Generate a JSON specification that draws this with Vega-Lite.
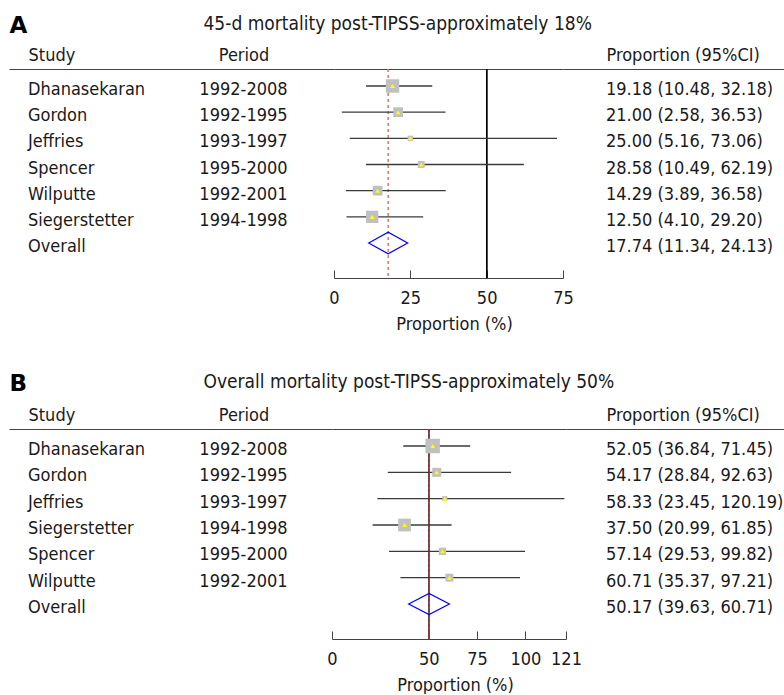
{
  "$schema": "https://vega.github.io/schema/vega-lite/v6.json",
  "padding": {"left": 9, "top": 14, "right": 0, "bottom": 0},
  "background": "white",
  "config": {"view": {"stroke": null}, "font": "DejaVu Sans Condensed, Liberation Sans, sans-serif"},
  "datasets": {
    "a": [
      {"study": "Dhanasekaran", "period": "1992-2008", "est": 19.18, "lo": 10.48, "hi": 32.18, "weight": 30.4},
      {"study": "Gordon", "period": "1992-1995", "est": 21.00, "lo": 2.58, "hi": 36.53, "weight": 15.8},
      {"study": "Jeffries", "period": "1993-1997", "est": 25.00, "lo": 5.16, "hi": 73.06, "weight": 4.8},
      {"study": "Spencer", "period": "1995-2000", "est": 28.58, "lo": 10.49, "hi": 62.19, "weight": 7.9},
      {"study": "Wilputte", "period": "1992-2001", "est": 14.29, "lo": 3.89, "hi": 36.58, "weight": 15.8},
      {"study": "Siegerstetter", "period": "1994-1998", "est": 12.50, "lo": 4.10, "hi": 29.20, "weight": 25.2},
      {"study": "Overall", "period": "", "est": 17.74, "lo": 11.34, "hi": 24.13, "weight": null}
    ],
    "b": [
      {"study": "Dhanasekaran", "period": "1992-2008", "est": 52.05, "lo": 36.84, "hi": 71.45, "weight": 35.2},
      {"study": "Gordon", "period": "1992-1995", "est": 54.17, "lo": 28.84, "hi": 92.63, "weight": 13.7},
      {"study": "Jeffries", "period": "1993-1997", "est": 58.33, "lo": 23.45, "hi": 120.19, "weight": 4.4},
      {"study": "Siegerstetter", "period": "1994-1998", "est": 37.50, "lo": 20.99, "hi": 61.85, "weight": 27.2},
      {"study": "Spencer", "period": "1995-2000", "est": 57.14, "lo": 29.53, "hi": 99.82, "weight": 8.9},
      {"study": "Wilputte", "period": "1992-2001", "est": 60.71, "lo": 35.37, "hi": 97.21, "weight": 10.5},
      {"study": "Overall", "period": "", "est": 50.17, "lo": 39.63, "hi": 60.71, "weight": null}
    ]
  },
  "spacing": 39,
  "vconcat": [
    {
      "spacing": 0,
      "bounds": "flush",
      "hconcat": [
        {
          "width": 325, "height": 209,
          "data": {"name": "a"},
          "layer": [
            {
              "mark": {"type": "text", "align": "left", "baseline": "alphabetic", "dy": 9, "fontSize": 18, "color": "#1a1a1a"},
              "encoding": {
                "x": {"datum": "Study", "type": "nominal",
                  "scale": {"type": "point", "domain": ["Study", "Period"], "padding": 0.2541, "align": 0.1735},
                  "axis": {"orient": "top", "domain": true, "domainColor": "#444", "domainWidth": 1, "ticks": false, "grid": false,
                    "labelPadding": 9, "labelBaseline": "alphabetic", "labelFontSize": 18, "labelColor": "#1a1a1a", "labelAngle": 0,
                    "labelAlign": {"condition": {"test": "datum.value === 'Study'", "value": "left"}, "value": "center"},
                    "title": "A", "titleX": 0, "titleY": -37, "titleAlign": "left", "titleBaseline": "alphabetic", "titleAngle": 0,
                    "titleFont": "DejaVu Sans", "titleFontSize": 23, "titleFontWeight": "bold", "titleColor": "#000", "titleLimit": 1000}},
                "y": {"field": "study", "type": "nominal",
                  "scale": {"type": "point", "domain": ["Dhanasekaran", "Gordon", "Jeffries", "Spencer", "Wilputte", "Siegerstetter", "Overall"], "padding": 0.993, "align": 0.327},
                  "axis": null},
                "text": {"field": "study"}
              }
            },
            {
              "mark": {"type": "text", "align": "center", "baseline": "alphabetic", "dy": 9, "fontSize": 18, "color": "#1a1a1a"},
              "encoding": {
                "x": {"datum": "Period", "type": "nominal"},
                "y": {"field": "study", "type": "nominal"},
                "text": {"field": "period"}
              }
            }
          ]
        },
        {
          "width": 229, "height": 209,
          "data": {"name": "a"},
          "resolve": {"axis": {"x": "independent"}},
          "layer": [
            {
              "mark": {"type": "rule", "color": "#000", "strokeWidth": 1},
              "encoding": {
                "x": {"datum": 50, "type": "quantitative",
                  "scale": {"domain": [0, 75], "nice": false},
                  "axis": {"orient": "bottom", "values": [0, 25, 50, 75], "format": "d", "grid": false,
                    "tickSize": -8, "tickColor": "#444", "domainColor": "#444",
                    "labelFontSize": 18, "labelColor": "#1a1a1a", "labelPadding": 33, "labelBaseline": "alphabetic", "labelFlush": false, "labelOverlap": false,
                    "title": "Proportion (%)", "titleFontSize": 18, "titleFontWeight": "normal", "titleColor": "#1a1a1a",
                    "titleX": 120, "titleY": 51, "titleAlign": "center", "titleBaseline": "alphabetic"}}
              }
            },
            {
              "transform": [{"filter": "datum.study === 'Overall'"}],
              "mark": {"type": "rule", "color": "#e57373", "strokeWidth": 1.5, "strokeDash": [3, 3]},
              "encoding": {"x": {"field": "est", "type": "quantitative", "axis": null}}
            },
            {
              "transform": [{"filter": "datum.study !== 'Overall'"}],
              "mark": {"type": "rule", "color": "#3a3a3a", "strokeWidth": 1.3},
              "encoding": {
                "x": {"field": "lo", "type": "quantitative", "axis": null},
                "x2": {"field": "hi"},
                "y": {"field": "study", "type": "nominal",
                  "scale": {"type": "point", "domain": ["Dhanasekaran", "Gordon", "Jeffries", "Spencer", "Wilputte", "Siegerstetter", "Overall"], "padding": 0.993, "align": 0.327},
                  "axis": null}
              }
            },
            {
              "transform": [{"filter": "datum.study !== 'Overall'"}],
              "mark": {"type": "point", "shape": "square", "filled": true, "color": "#c0c0c0", "opacity": 1},
              "encoding": {
                "x": {"field": "est", "type": "quantitative", "axis": null},
                "y": {"field": "study", "type": "nominal"},
                "size": {"field": "weight", "type": "quantitative", "scale": {"domain": [0, 30.4], "range": [0, 210]}, "legend": null}
              }
            },
            {
              "transform": [{"filter": "datum.study !== 'Overall'"}],
              "mark": {"type": "point", "shape": "triangle-up", "filled": true, "color": "#ffff00", "size": 22, "opacity": 1},
              "encoding": {
                "x": {"field": "est", "type": "quantitative", "axis": null},
                "y": {"field": "study", "type": "nominal"}
              }
            },
            {
              "transform": [{"filter": "datum.study === 'Overall'"}],
              "mark": {"type": "point", "shape": "M-1,0L0,-0.556L1,0L0,0.556Z", "filled": false, "color": "#0000ff", "strokeWidth": 1.2, "size": 1521, "opacity": 1},
              "encoding": {
                "x": {"field": "est", "type": "quantitative",
                  "axis": {"orient": "top", "labels": false, "ticks": false, "domain": true, "domainColor": "#444", "grid": false,
                    "title": "45-d mortality post-TIPSS-approximately 18%", "titleX": -131, "titleY": -40, "titleAlign": "left", "titleBaseline": "alphabetic",
                    "titleFontSize": 19, "titleFontWeight": "normal", "titleColor": "#1a1a1a", "titleLimit": 1000}},
                "y": {"field": "study", "type": "nominal"}
              }
            }
          ]
        },
        {
          "width": 221, "height": 209,
          "data": {"name": "a"},
          "transform": [{"calculate": "format(datum.est, '.2f') + ' (' + format(datum.lo, '.2f') + ', ' + format(datum.hi, '.2f') + ')'", "as": "label"}],
          "mark": {"type": "text", "align": "left", "baseline": "alphabetic", "dy": 9, "fontSize": 18, "color": "#1a1a1a"},
          "encoding": {
            "x": {"datum": "Proportion (95%CI)", "type": "nominal",
              "scale": {"type": "point", "domain": ["Proportion (95%CI)"], "padding": 0.5, "align": 0.1946},
              "axis": {"orient": "top", "domain": true, "domainColor": "#444", "domainWidth": 1, "ticks": false, "grid": false,
                "labelPadding": 9, "labelBaseline": "alphabetic", "labelFontSize": 18, "labelColor": "#1a1a1a", "labelAngle": 0, "labelAlign": "left", "labelLimit": 400, "title": null}},
            "y": {"field": "study", "type": "nominal",
              "scale": {"type": "point", "domain": ["Dhanasekaran", "Gordon", "Jeffries", "Spencer", "Wilputte", "Siegerstetter", "Overall"], "padding": 0.993, "align": 0.327},
              "axis": null},
            "text": {"field": "label"}
          }
        }
      ]
    },
    {
      "spacing": 0,
      "bounds": "flush",
      "hconcat": [
        {
          "width": 323, "height": 210,
          "data": {"name": "b"},
          "layer": [
            {
              "mark": {"type": "text", "align": "left", "baseline": "alphabetic", "dy": 9, "fontSize": 18, "color": "#1a1a1a"},
              "encoding": {
                "x": {"datum": "Study", "type": "nominal",
                  "scale": {"type": "point", "domain": ["Study", "Period"], "padding": 0.2494, "align": 0.1767},
                  "axis": {"orient": "top", "domain": true, "domainColor": "#444", "domainWidth": 1, "ticks": false, "grid": false,
                    "labelPadding": 9, "labelBaseline": "alphabetic", "labelFontSize": 18, "labelColor": "#1a1a1a", "labelAngle": 0,
                    "labelAlign": {"condition": {"test": "datum.value === 'Study'", "value": "left"}, "value": "center"},
                    "title": "B", "titleX": 0, "titleY": -39, "titleAlign": "left", "titleBaseline": "alphabetic", "titleAngle": 0,
                    "titleFont": "DejaVu Sans", "titleFontSize": 23, "titleFontWeight": "bold", "titleColor": "#000", "titleLimit": 1000}},
                "y": {"field": "study", "type": "nominal",
                  "scale": {"type": "point", "domain": ["Dhanasekaran", "Gordon", "Jeffries", "Siegerstetter", "Spencer", "Wilputte", "Overall"], "padding": 0.9877, "align": 0.327},
                  "axis": null},
                "text": {"field": "study"}
              }
            },
            {
              "mark": {"type": "text", "align": "center", "baseline": "alphabetic", "dy": 9, "fontSize": 18, "color": "#1a1a1a"},
              "encoding": {
                "x": {"datum": "Period", "type": "nominal"},
                "y": {"field": "study", "type": "nominal"},
                "text": {"field": "period"}
              }
            }
          ]
        },
        {
          "width": 234, "height": 210,
          "data": {"name": "b"},
          "resolve": {"axis": {"x": "independent"}},
          "layer": [
            {
              "mark": {"type": "rule", "color": "#555", "strokeWidth": 1.2},
              "encoding": {
                "x": {"datum": 50, "type": "quantitative",
                  "scale": {"domain": [0, 121], "nice": false},
                  "axis": {"orient": "bottom", "values": [0, 50, 75, 100, 121], "format": "d", "grid": false,
                    "tickSize": -8, "tickColor": "#444", "domainColor": "#444",
                    "labelFontSize": 18, "labelColor": "#1a1a1a", "labelPadding": 33, "labelBaseline": "alphabetic", "labelFlush": false, "labelOverlap": false,
                    "title": "Proportion (%)", "titleFontSize": 18, "titleFontWeight": "normal", "titleColor": "#1a1a1a",
                    "titleX": 123, "titleY": 51, "titleAlign": "center", "titleBaseline": "alphabetic"}}
              }
            },
            {
              "transform": [{"filter": "datum.study === 'Overall'"}],
              "mark": {"type": "rule", "color": "#dd1111", "strokeWidth": 1, "strokeDash": [3, 2]},
              "encoding": {"x": {"field": "est", "type": "quantitative", "axis": null}}
            },
            {
              "transform": [{"filter": "datum.study !== 'Overall'"}],
              "mark": {"type": "rule", "color": "#3a3a3a", "strokeWidth": 1.3},
              "encoding": {
                "x": {"field": "lo", "type": "quantitative", "axis": null},
                "x2": {"field": "hi"},
                "y": {"field": "study", "type": "nominal",
                  "scale": {"type": "point", "domain": ["Dhanasekaran", "Gordon", "Jeffries", "Siegerstetter", "Spencer", "Wilputte", "Overall"], "padding": 0.9877, "align": 0.327},
                  "axis": null}
              }
            },
            {
              "transform": [{"filter": "datum.study !== 'Overall'"}],
              "mark": {"type": "point", "shape": "square", "filled": true, "color": "#c0c0c0", "opacity": 1},
              "encoding": {
                "x": {"field": "est", "type": "quantitative", "axis": null},
                "y": {"field": "study", "type": "nominal"},
                "size": {"field": "weight", "type": "quantitative", "scale": {"domain": [0, 35.2], "range": [0, 180]}, "legend": null}
              }
            },
            {
              "transform": [{"filter": "datum.study !== 'Overall'"}],
              "mark": {"type": "point", "shape": "triangle-up", "filled": true, "color": "#ffff00", "size": 22, "opacity": 1},
              "encoding": {
                "x": {"field": "est", "type": "quantitative", "axis": null},
                "y": {"field": "study", "type": "nominal"}
              }
            },
            {
              "transform": [{"filter": "datum.study === 'Overall'"}],
              "mark": {"type": "point", "shape": "M-1,0L0,-0.52L1,0L0,0.52Z", "filled": false, "color": "#0000ff", "strokeWidth": 1.2, "size": 1665, "opacity": 1},
              "encoding": {
                "x": {"field": "est", "type": "quantitative",
                  "axis": {"orient": "top", "labels": false, "ticks": false, "domain": true, "domainColor": "#444", "grid": false,
                    "title": "Overall mortality post-TIPSS-approximately 50%", "titleX": -129, "titleY": -42, "titleAlign": "left", "titleBaseline": "alphabetic",
                    "titleFontSize": 19, "titleFontWeight": "normal", "titleColor": "#1a1a1a", "titleLimit": 1000}},
                "y": {"field": "study", "type": "nominal"}
              }
            }
          ]
        },
        {
          "width": 218, "height": 210,
          "data": {"name": "b"},
          "transform": [{"calculate": "format(datum.est, '.2f') + ' (' + format(datum.lo, '.2f') + ', ' + format(datum.hi, '.2f') + ')'", "as": "label"}],
          "mark": {"type": "text", "align": "left", "baseline": "alphabetic", "dy": 9, "fontSize": 18, "color": "#1a1a1a"},
          "encoding": {
            "x": {"datum": "Proportion (95%CI)", "type": "nominal",
              "scale": {"type": "point", "domain": ["Proportion (95%CI)"], "padding": 0.5, "align": 0.1835},
              "axis": {"orient": "top", "domain": true, "domainColor": "#444", "domainWidth": 1, "ticks": false, "grid": false,
                "labelPadding": 9, "labelBaseline": "alphabetic", "labelFontSize": 18, "labelColor": "#1a1a1a", "labelAngle": 0, "labelAlign": "left", "labelLimit": 400, "title": null}},
            "y": {"field": "study", "type": "nominal",
              "scale": {"type": "point", "domain": ["Dhanasekaran", "Gordon", "Jeffries", "Siegerstetter", "Spencer", "Wilputte", "Overall"], "padding": 0.9877, "align": 0.327},
              "axis": null},
            "text": {"field": "label"}
          }
        }
      ]
    }
  ]
}
